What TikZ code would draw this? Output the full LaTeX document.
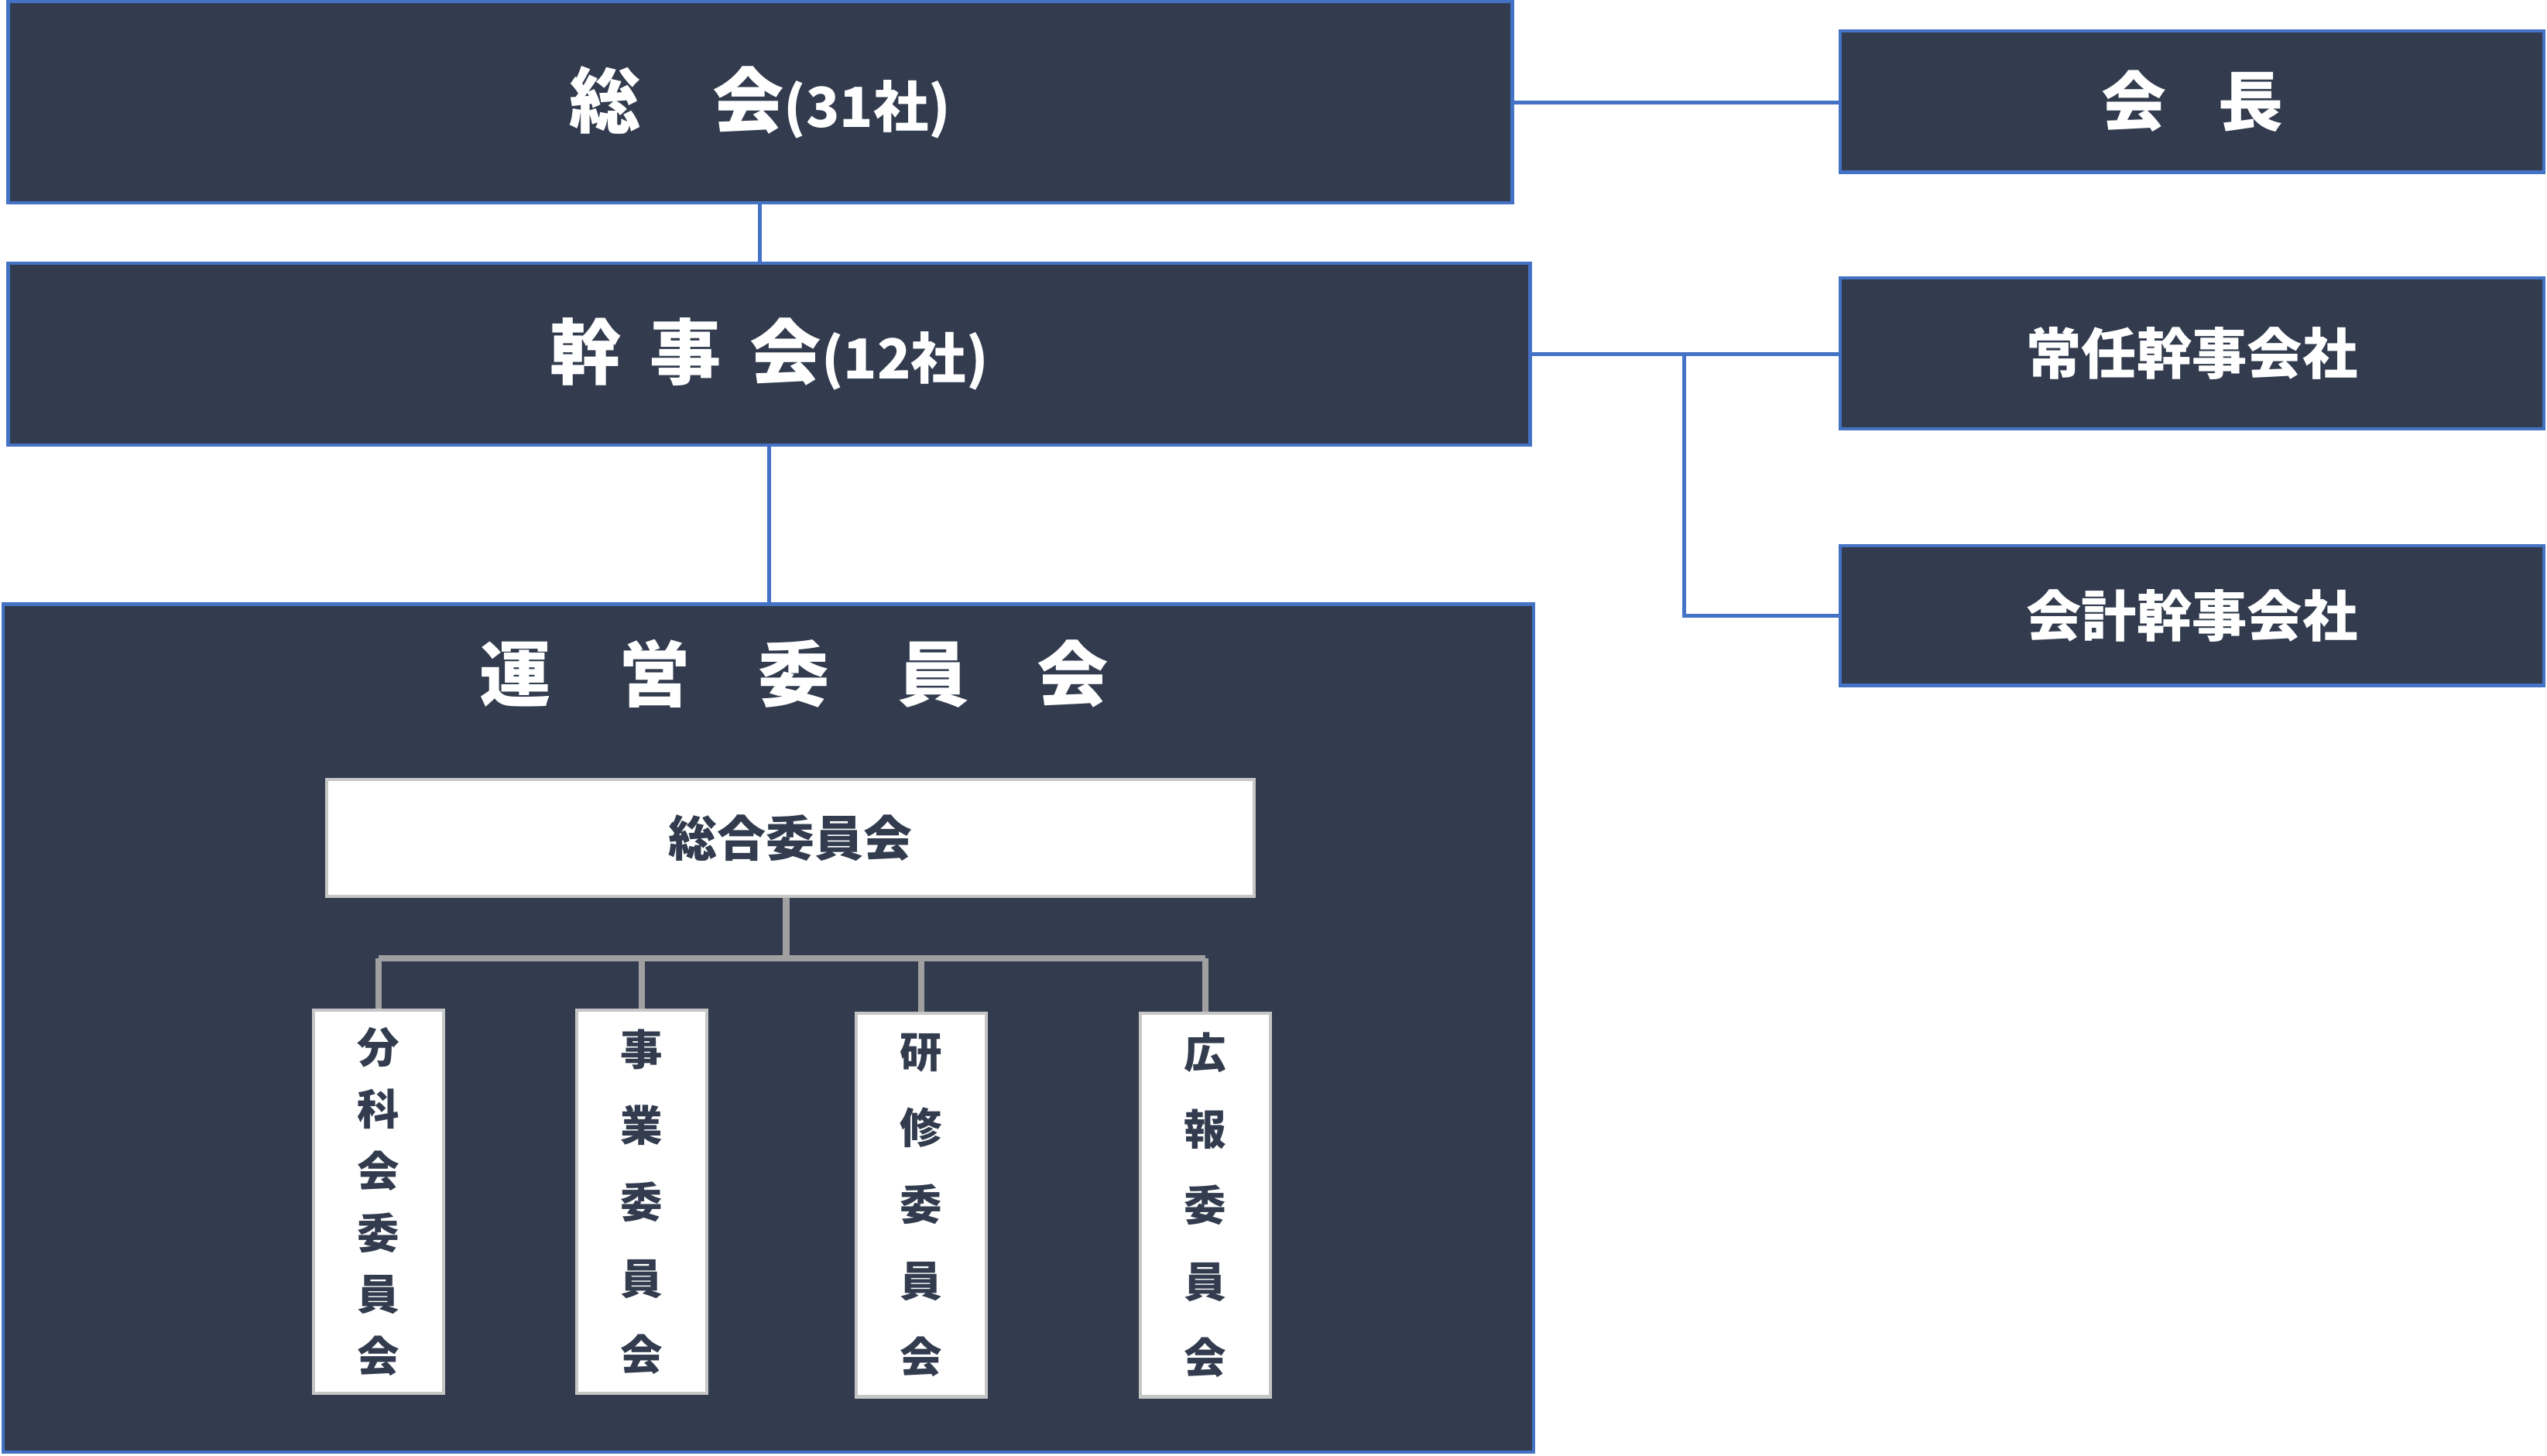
\documentclass[tikz,border=0pt]{standalone}
\usepackage{fontspec}
\usepackage{tikz}
\newfontfamily\cjk{Noto Sans CJK JP}
\definecolor{navy}{HTML}{323C4E}
\definecolor{edgeblue}{HTML}{4472C4}
\definecolor{linkgray}{HTML}{A0A0A0}
\tikzset{
  box/.style={draw=edgeblue,line width=1pt,fill=navy,text=white,inner sep=0pt,font=\cjk\bfseries},
  wbox/.style={draw=linkgray!60,line width=1pt,fill=white,text=navy,inner sep=0pt,font=\cjk\bfseries},
  link/.style={edgeblue,line width=1.2pt},
  glink/.style={linkgray,line width=2pt}
}
\begin{document}
\begin{tikzpicture}[x=0.5pt,y=-0.5pt]
\useasboundingbox (0,0) rectangle (1568,896);

% upper boxes
\node[box,minimum width=463pt,minimum height=62pt,font=\cjk\bfseries\fontsize{22}{26}\selectfont] (sokai) at (468,63) {総\hspace{1em}会{\fontsize{17}{20}\selectfont(31社)}};
\node[box,minimum width=216.5pt,minimum height=43.5pt,font=\cjk\bfseries\fontsize{20}{24}\selectfont] (kaicho) at (1349.5,62.5) {会\hspace{0.8em}長};
\node[box,minimum width=468.5pt,minimum height=56pt,font=\cjk\bfseries\fontsize{22}{26}\selectfont] (kanjikai) at (473.5,218) {幹\hspace{0.4em}事\hspace{0.4em}会{\fontsize{17}{20}\selectfont(12社)}};
\node[box,minimum width=216.5pt,minimum height=46.5pt,font=\cjk\bfseries\fontsize{17}{20}\selectfont] (jonin) at (1349.5,217.5) {常任幹事会社};
\node[box,minimum width=216.5pt,minimum height=43pt,font=\cjk\bfseries\fontsize{17}{20}\selectfont] (kaikei) at (1349.5,379) {会計幹事会社};

% steering committee
\node[box,minimum width=471pt,minimum height=261pt] (unei) at (473,633) {};
\node[text=white,font=\cjk\bfseries\fontsize{22}{26}\selectfont] (uneititle) at (489,415) {運\hspace{0.95em}営\hspace{0.95em}委\hspace{0.95em}員\hspace{0.95em}会};
\node[wbox,minimum width=285.5pt,minimum height=36pt,font=\cjk\bfseries\fontsize{15}{18}\selectfont] (sogo) at (486.5,516) {総合委員会};

% sub committees
\node[wbox,minimum width=40pt,minimum height=118pt,align=center,font=\cjk\bfseries\fontsize{13}{19}\selectfont] (bunka) at (233,740) {分\\科\\会\\委\\員\\会};
\node[wbox,minimum width=40pt,minimum height=118pt,align=center,font=\cjk\bfseries\fontsize{13}{23.5}\selectfont] (jigyo) at (395,740) {事\\業\\委\\員\\会};
\node[wbox,minimum width=40pt,minimum height=118pt,align=center,font=\cjk\bfseries\fontsize{13}{23.5}\selectfont] (kenshu) at (567,742) {研\\修\\委\\員\\会};
\node[wbox,minimum width=40pt,minimum height=118pt,align=center,font=\cjk\bfseries\fontsize{13}{23.5}\selectfont] (koho) at (742,742) {広\\報\\委\\員\\会};

% blue links
\draw[link] (sokai.east) -- (kaicho.west |- sokai.east);
\draw[link] (sokai.south) -- (kanjikai.north -| sokai.south);
\draw[link] (kanjikai.east) -- (jonin.west |- kanjikai.east);
\coordinate (branch) at (1037,218);
\draw[link] (branch) |- (kaikei.west);
\draw[link] (kanjikai.south) -- (unei.north -| kanjikai.south);

% gray tree
\coordinate (bar) at (484,590);
\draw[glink] (sogo.south -| bar) -- (bar);
\draw[glink] (bunka.north |- bar) -- (koho.north |- bar);
\foreach \c in {bunka,jigyo,kenshu,koho}
  \draw[glink] (\c.north |- bar) -- (\c.north);
\end{tikzpicture}
\end{document}
